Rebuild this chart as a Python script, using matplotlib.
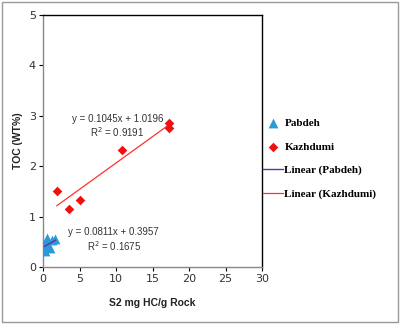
import matplotlib
matplotlib.use("Agg")
import matplotlib.pyplot as plt
import numpy as np
from matplotlib.patches import Rectangle

# Pabdeh samples (S2 vs TOC)
pabdeh_s2 = [0.2, 0.3, 0.4, 0.6, 0.7, 1.0, 1.3, 1.7]
pabdeh_toc = [0.42, 0.32, 0.50, 0.58, 0.40, 0.37, 0.53, 0.56]

# Kazhdumi samples
kazhdumi_s2 = [1.9, 3.6, 5.0, 10.8, 17.2, 17.3]
kazhdumi_toc = [1.50, 1.16, 1.34, 2.33, 2.75, 2.85]

# trendline coefficients (as printed on the chart)
pab_fit = (0.0811, 0.3957, 0.1675)
kaz_fit = (0.1045, 1.0196, 0.9191)

xticks = [0, 5, 10, 15, 20, 25, 30]
yticks = [0, 1, 2, 3, 4, 5]

fig = plt.figure(figsize=(4.0, 3.25), dpi=100)
ax = fig.add_axes([0.1075, 0.178, 0.5475, 0.776])

sc1 = ax.scatter(pabdeh_s2, pabdeh_toc, marker="^", s=50, color="#2a9ad8",
                 linewidths=0, label="Pabdeh", zorder=3)
sc2 = ax.scatter(kazhdumi_s2, kazhdumi_toc, marker="D", s=24, color="#ee1111",
                 linewidths=0, label="Kazhdumi", zorder=3)

# linear trendlines
xp = np.array([min(pabdeh_s2), max(pabdeh_s2)])
l1, = ax.plot(xp, pab_fit[0] * xp + pab_fit[1], color="#6a2fa0", lw=1.0,
              label="Linear (Pabdeh)", zorder=4)
xk = np.array([min(kazhdumi_s2), max(kazhdumi_s2)])
l2, = ax.plot(xk, kaz_fit[0] * xk + kaz_fit[1], color="#ff3030", lw=0.9,
              label="Linear (Kazhdumi)", zorder=2)

eq_font = dict(fontsize=7, family="Liberation Sans", color="#333333",
               ha="center", va="center")
ax.text(10.2, 2.94, "y = %.4fx + %.4f" % (kaz_fit[0], kaz_fit[1]), **eq_font)
ax.text(10.2, 2.67, "R$^2$ = %.4f" % kaz_fit[2], **eq_font)
ax.text(9.7, 0.70, "y = %.4fx + %.4f" % (pab_fit[0], pab_fit[1]), **eq_font)
ax.text(9.7, 0.42, "R$^2$ = %.4f" % pab_fit[2], **eq_font)

ax.set_xlim(0, 30)
ax.set_ylim(0, 5)
ax.set_xticks(xticks)
ax.set_yticks(yticks)
ax.tick_params(direction="out", length=3, width=0.8, labelsize=8,
               labelcolor="#333333", pad=2)
for s in ax.spines.values():
    s.set_linewidth(1.0)
    s.set_color("black")
ax.spines["left"].set_color("#888888")
ax.spines["bottom"].set_color("#888888")

ax.set_xlabel("S2 mg HC/g Rock", fontsize=7.5, fontweight="bold",
              family="Liberation Sans", color="#222222", labelpad=10)
ax.set_ylabel("TOC (WT%)", fontsize=7.5, fontweight="bold",
              family="Liberation Sans", color="#222222", labelpad=4)

leg = fig.legend(handles=[sc1, sc2, l1, l2], loc="upper left",
                 bbox_to_anchor=(0.647, 0.65), frameon=False,
                 prop=dict(family="Liberation Serif", weight="bold", size=8),
                 handlelength=1.8, handletextpad=0.1, labelspacing=1.24,
                 borderaxespad=0, scatterpoints=1)

# grey border around the whole chart area
fig.patches.append(Rectangle((0.005, 0.008), 0.99, 0.985, transform=fig.transFigure,
                             fill=False, edgecolor="#999999", lw=1))

fig.savefig("out.png", dpi=100)
